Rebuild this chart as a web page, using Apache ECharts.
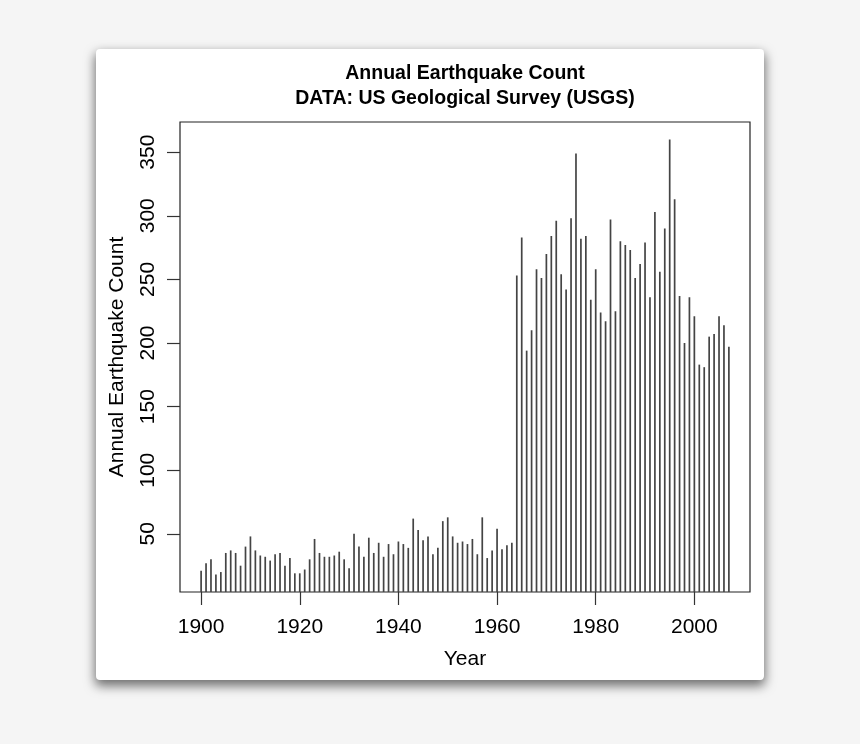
<!DOCTYPE html>
<html>
<head>
<meta charset="utf-8">
<script src="https://cdn.jsdelivr.net/npm/echarts@6/dist/echarts.min.js"></script>
<style>
  html, body { margin: 0; padding: 0; width: 860px; height: 744px; background: #f5f5f5; overflow: hidden; }
  #card { position: absolute; left: 96px; top: 49px; width: 668px; height: 631px; background: #fff;
          border-radius: 4px; box-shadow: 0 5px 11px 1px rgba(0,0,0,0.55); }
  #chart { position: absolute; left: 0; top: 0; width: 860px; height: 744px; }
</style>
</head>
<body>
<div id="card"></div>
<div id="chart"></div>
<script>
const years = [1900,1901,1902,1903,1904,1905,1906,1907,1908,1909,
  1910,1911,1912,1913,1914,1915,1916,1917,1918,1919,
  1920,1921,1922,1923,1924,1925,1926,1927,1928,1929,
  1930,1931,1932,1933,1934,1935,1936,1937,1938,1939,
  1940,1941,1942,1943,1944,1945,1946,1947,1948,1949,
  1950,1951,1952,1953,1954,1955,1956,1957,1958,1959,
  1960,1961,1962,1963,1964,1965,1966,1967,1968,1969,
  1970,1971,1972,1973,1974,1975,1976,1977,1978,1979,
  1980,1981,1982,1983,1984,1985,1986,1987,1988,1989,
  1990,1991,1992,1993,1994,1995,1996,1997,1998,1999,
  2000,2001,2002,2003,2004,2005,2006,2007];
const counts = [21,27,30,18,20,35,37,35,25,40,
  48,37,33,32,29,34,35,25,31,19,
  19,22,30,46,35,32,32,33,36,30,
  23,50,40,32,47,35,43,32,42,34,
  44,42,39,62,53,45,48,34,39,60,
  63,48,43,44,42,46,34,63,31,37,
  54,38,41,43,253,283,194,210,258,251,
  270,284,296,254,242,298,349,282,284,234,
  258,224,217,297,225,280,277,273,251,262,
  279,236,303,256,290,360,313,237,200,236,
  221,183,181,205,207,221,214,197];
const xTicks = [1900,1920,1940,1960,1980,2000];
const yTicks = [50,100,150,200,250,300,350];

const font = 'Liberation Sans, Arial, Helvetica, sans-serif';
const chart = echarts.init(document.getElementById('chart'), null, {renderer: 'canvas'});
chart.setOption({
  backgroundColor: 'transparent',
  animation: false,
  title: {
    text: 'Annual Earthquake Count\nDATA: US Geological Survey (USGS)',
    left: 460, top: 56, textAlign: 'center',
    textStyle: { fontFamily: font, fontSize: 19.5, fontWeight: 'bold', color: '#000', lineHeight: 25 }
  },
  grid: { left: 180, right: 110, top: 122, bottom: 152, show: true, borderColor: '#222', borderWidth: 1.2, backgroundColor: 'transparent' },
  xAxis: {
    type: 'value', min: 1895.72, max: 2011.28,
    name: 'Year', nameLocation: 'middle', nameGap: 57,
    nameTextStyle: { fontFamily: font, fontSize: 21, color: '#000' },
    axisLine: { show: false },
    splitLine: { show: false },
    axisTick: { show: true, length: 13, inside: false, customValues: xTicks, lineStyle: { color: '#333', width: 1.2 } },
    axisLabel: { customValues: xTicks, margin: 25, fontFamily: font, fontSize: 21, color: '#000',
                 formatter: v => String(v) }
  },
  yAxis: {
    type: 'value', min: 4.32, max: 373.68,
    name: 'Annual Earthquake Count', nameLocation: 'middle', nameGap: 52,
    nameTextStyle: { fontFamily: font, fontSize: 21, color: '#000' },
    axisLine: { show: false },
    splitLine: { show: false },
    axisTick: { show: true, length: 13, inside: false, customValues: yTicks, lineStyle: { color: '#333', width: 1.2 } },
    axisLabel: { customValues: yTicks, rotate: 90, margin: 21, fontFamily: font, fontSize: 21, color: '#000',
                 formatter: v => String(v) }
  },
  series: [{
    type: 'bar',
    barWidth: 1.7,
    itemStyle: { color: '#444' },
    clip: true,
    data: years.map((y, i) => [y, counts[i]])
  }]
});
</script>
</body>
</html>
